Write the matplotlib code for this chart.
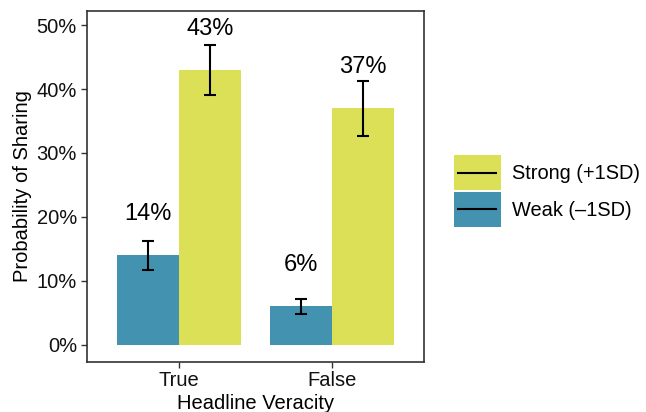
import matplotlib.pyplot as plt
import numpy as np
from matplotlib.patches import Patch, Rectangle
from matplotlib.lines import Line2D
from matplotlib.legend_handler import HandlerBase
from matplotlib.ticker import FuncFormatter

plt.rcParams["font.family"] = ["Liberation Sans", "DejaVu Sans"]

# data
veracity = ["True", "False"]
groups = ["Weak (\u20131SD)", "Strong (+1SD)"]
weak = [14.0, 6.0]
weak_lo = [11.75, 4.8]
weak_hi = [16.2, 7.15]
strong = [43.0, 37.0]
strong_lo = [39.0, 32.6]
strong_hi = [46.9, 41.2]

colors = {"weak": "#4393b0", "strong": "#dbe057"}


class KeyHandler(HandlerBase):
    """Filled key with a black error-bar line across its middle."""

    def create_artists(self, legend, orig_handle, xdescent, ydescent,
                       width, height, fontsize, trans):
        box = Rectangle((-xdescent, -ydescent), width, height,
                        facecolor=orig_handle.get_facecolor(), linewidth=0,
                        transform=trans)
        yc = -ydescent + height / 2
        line = Line2D([-xdescent + 3, -xdescent + width - 3], [yc, yc],
                      color="black", linewidth=1.5, transform=trans)
        return [box, line]


fig = plt.figure(figsize=(6.46, 4.12), dpi=100)
ax = fig.add_axes([86.7 / 646, 1 - 361.7 / 412, (424 - 86.7) / 646, (361.7 - 11) / 412])

x = np.arange(1, len(veracity) + 1)
w = 0.405

series = [
    (weak, weak_lo, weak_hi, colors["weak"], x - w / 2),
    (strong, strong_lo, strong_hi, colors["strong"], x + w / 2),
]
for vals, lo, hi, col, pos in series:
    vals = np.array(vals)
    ax.bar(pos, vals, width=w, color=col, linewidth=0, zorder=2)
    yerr = [vals - np.array(lo), np.array(hi) - vals]
    ax.errorbar(pos, vals, yerr=yerr, fmt="none", ecolor="black",
                elinewidth=1.5, capsize=4, capthick=1.5, zorder=3)
    for p, v in zip(pos, vals):
        ax.text(p, v + 6.4, f"{v:.0f}%", ha="center", va="center",
                fontsize=17, color="black", zorder=4)

ax.set_xlim(0.4, 2.6)
ax.set_ylim(-2.65, 52.2)
ax.set_xticks(x)
ax.set_xticklabels(veracity)
ax.set_yticks([0, 10, 20, 30, 40, 50])
ax.yaxis.set_major_formatter(FuncFormatter(lambda v, _: f"{v:.0f}%"))

for s in ax.spines.values():
    s.set_color("#333333")
    s.set_linewidth(1.2)
ax.tick_params(axis="both", length=4, width=1, color="#333333",
               labelsize=14.5, labelcolor="#111111", pad=3)

ax.set_xlabel("Headline Veracity", fontsize=14.5, labelpad=2.5)
ax.set_ylabel("Probability of Sharing", fontsize=14.5, labelpad=3)

handles = [Patch(facecolor=colors["strong"]), Patch(facecolor=colors["weak"])]
fig.legend(handles, [groups[1], groups[0]], loc="center left",
           bbox_to_anchor=(454 / 646, 1 - 191 / 412), frameon=False,
           fontsize=14.4, handlelength=2.33, handleheight=2.33,
           handletextpad=0.55, labelspacing=0.08, borderpad=0,
           borderaxespad=0, handler_map={Patch: KeyHandler()})

fig.savefig("out.png", dpi=100)
